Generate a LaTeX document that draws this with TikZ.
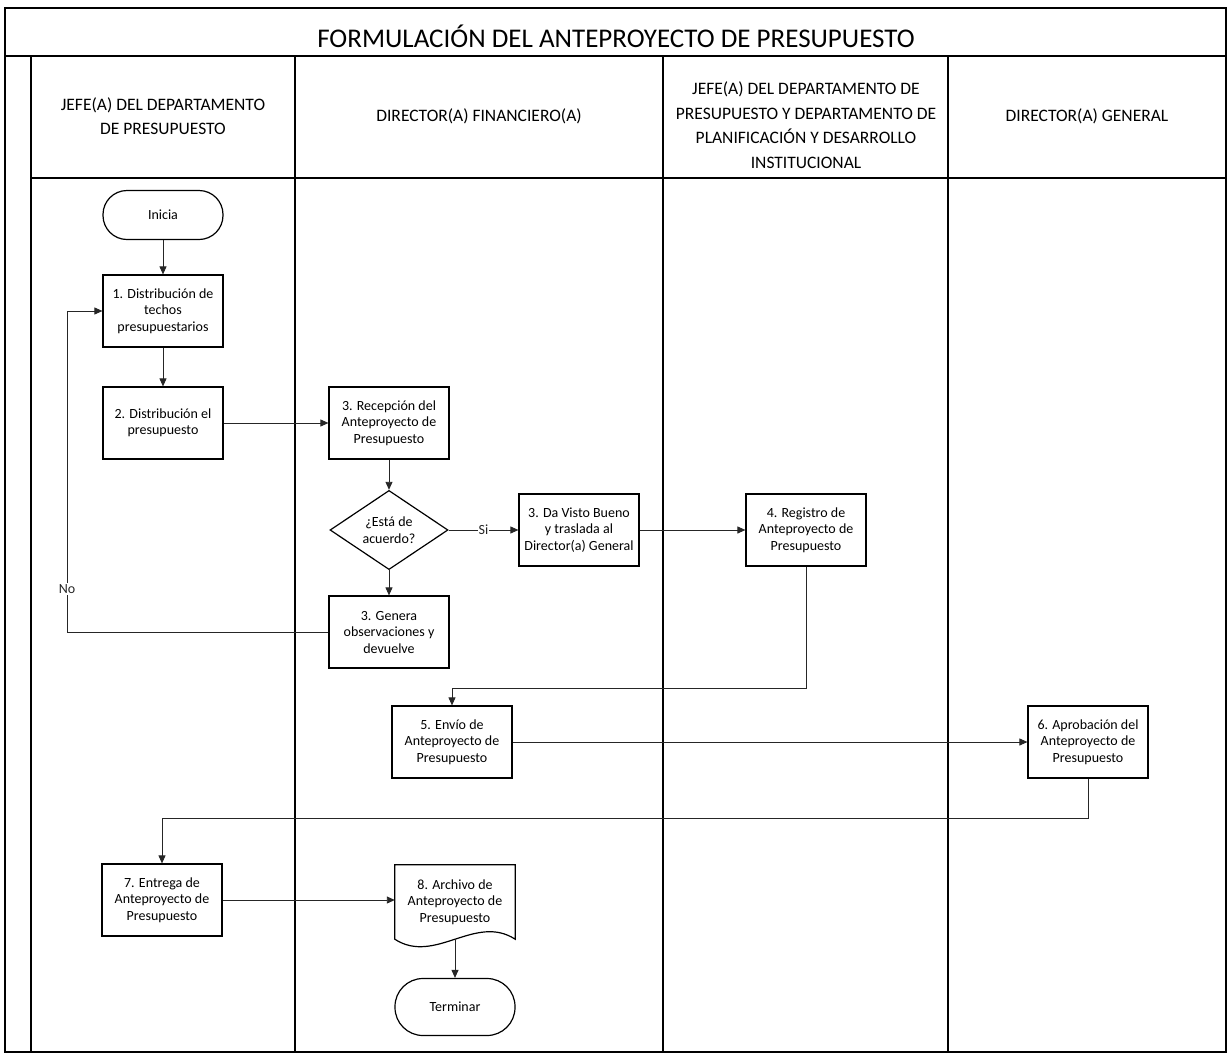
\documentclass[tikz,border=0pt]{standalone}
\usepackage{fontspec}
\setmainfont{Carlito}
\usetikzlibrary{arrows.meta,shapes.geometric}

\begin{document}
\begin{tikzpicture}[x=1pt, y=-1pt, >={Triangle[length=8pt,width=7pt]},
    proceso/.style={draw, line width=1.2pt, minimum width=120pt, minimum height=72pt,
        inner sep=2pt, align=center, font=\fontsize{14}{16.5}\selectfont},
    extremo/.style={draw, line width=1.2pt, rounded corners=24pt, minimum width=120pt,
        minimum height=49pt, font=\fontsize{14}{16.5}\selectfont},
    decision/.style={diamond, draw, line width=1.2pt, minimum width=118pt,
        minimum height=72pt, inner sep=0pt, align=center, font=\fontsize{14}{16.5}\selectfont},
    documento/.style={minimum width=120pt, minimum height=74pt, inner sep=2pt,
        align=center, font=\fontsize{14}{16.5}\selectfont},
    carril/.style={align=center, font=\fontsize{17.5}{24.5}\selectfont},
    etiqueta/.style={fill=white, inner sep=1pt, font=\fontsize{14}{16.5}\selectfont},
    flecha/.style={->, line width=0.9pt, black!85}]

    \useasboundingbox (0,0) rectangle (1228,1055);

    % Marco y carriles
    \draw[line width=1.3pt] (5,8) rectangle (1226,1052);
    \draw[line width=1.3pt] (5,56) -- (1226,56);
    \draw[line width=1.3pt] (31,56) -- (31,1052);
    \draw[line width=1.3pt] (31,178) -- (1226,178);
    \foreach \xc in {295,663,948}
        \draw[line width=1.3pt] (\xc,56) -- (\xc,1052);

    % Titulo y encabezados
    \node[font=\fontsize{27}{32}\selectfont] (titulo) at (616,36) {FORMULACIÓN DEL ANTEPROYECTO DE PRESUPUESTO};
    \node[carril] (carril1) at (163,116) {JEFE(A) DEL DEPARTAMENTO\\DE PRESUPUESTO};
    \node[carril] (carril2) at (479,116) {DIRECTOR(A) FINANCIERO(A)};
    \node[carril] (carril3) at (806,125) {JEFE(A) DEL DEPARTAMENTO DE\\PRESUPUESTO Y DEPARTAMENTO DE\\PLANIFICACIÓN Y DESARROLLO\\INSTITUCIONAL};
    \node[carril] (carril4) at (1087,116) {DIRECTOR(A) GENERAL};

    % Pasos
    \node[extremo] (inicia) at (163,215) {Inicia};
    \node[proceso] (uno) at (163,311) {1. Distribución de\\techos\\presupuestarios};
    \node[proceso] (dos) at (163,423) {2. Distribución el\\presupuesto};
    \node[proceso] (recepcion) at (389,423) {3. Recepción del\\Anteproyecto de\\Presupuesto};
    \node[decision] (acuerdo) at (389,530) {¿Está de\\acuerdo?};
    \node[proceso] (visto) at (579,530) {3. Da Visto Bueno\\y traslada al\\Director(a) General};
    \node[proceso] (genera) at (389,632) {3. Genera\\observaciones y\\devuelve};
    \node[proceso] (registro) at (806,530) {4. Registro de\\Anteproyecto de\\Presupuesto};
    \node[proceso] (envio) at (452,742) {5. Envío de\\Anteproyecto de\\Presupuesto};
    \node[proceso] (aprobacion) at (1088,742) {6. Aprobación del\\Anteproyecto de\\Presupuesto};
    \node[proceso] (entrega) at (162,900) {7. Entrega de\\Anteproyecto de\\Presupuesto};
    \node[documento] (archivo) at (455,902) {8. Archivo de\\Anteproyecto de\\Presupuesto};
    \draw[line width=1.2pt] (archivo.south west) -- (archivo.north west) -- (archivo.north east)
        -- (archivo.south east) .. controls +(-40,-26) and +(40,26) .. (archivo.south west) -- cycle;
    \node[extremo, rounded corners=28pt, minimum height=57pt] (terminar) at (455,1007) {Terminar};

    % Puntos de quiebre
    \coordinate (retorno) at (67,311);
    \coordinate (baja4) at (806,688);
    \coordinate (baja6) at (1088,818);

    % Conectores
    \draw[flecha] (inicia) -- (uno);
    \draw[flecha] (uno) -- (dos);
    \draw[flecha] (dos) -- (recepcion);
    \draw[flecha] (recepcion) -- (acuerdo);
    \draw[flecha] (acuerdo) -- node[etiqueta] {Si} (visto);
    \draw[flecha] (acuerdo) -- (genera);
    \draw[flecha] (genera.west) -| node[etiqueta, pos=0.567] {No} (retorno) -- (uno.west);
    \draw[flecha] (visto) -- (registro);
    \draw[flecha] (registro.south) -- (baja4) -| (envio.north);
    \draw[flecha] (envio) -- (aprobacion);
    \draw[flecha] (aprobacion.south) -- (baja6) -| (entrega.north);
    \draw[flecha] (entrega) -- (entrega -| archivo.west);
    \draw[flecha] (archivo.south) -- (terminar);

\end{tikzpicture}
\end{document}
